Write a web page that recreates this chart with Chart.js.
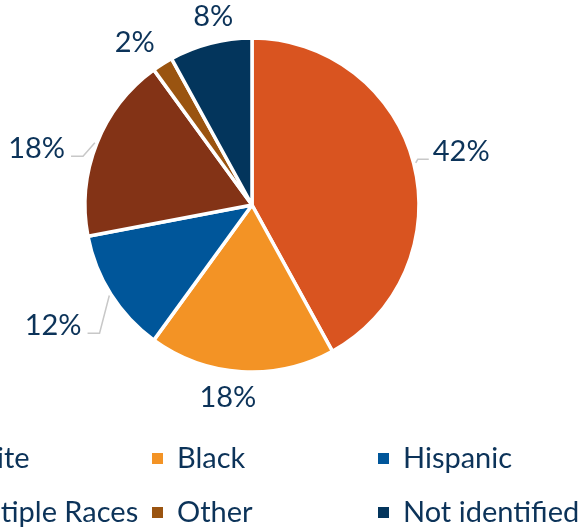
<!DOCTYPE html>
<html>
<head>
<meta charset="utf-8">
<script src="https://cdn.jsdelivr.net/npm/chart.js@4/dist/chart.umd.min.js"></script>
<style>
  html, body { margin: 0; padding: 0; background: #ffffff; overflow: hidden; width: 582px; height: 527px; }
  #wrap { position: absolute; left: -100px; top: 0; width: 704px; height: 527px; }
</style>
</head>
<body>
<div id="wrap"><canvas id="c"></canvas></div>
<script>
// ---- data ----
const categories = ["White", "Black", "Hispanic", "Multiple Races", "Other", "Not identified"];
const values = [42, 18, 12, 18, 2, 8];
const colors = ["#D95420", "#F39325", "#00569A", "#833316", "#9A5410", "#03355C"];

// ---- label placement options (not data) ----
const labelExtra = [49, 26, 65, 55, 33, 25];
const labelNudge = [[0, 0], [-12, 0], [-3, -4], [-9, 25], [-10, 7], [9, -2]];
const labelLeader = [true, false, true, true, false, false];

const FONT = "Lato, 'Open Sans', sans-serif";
const TEXT = "#0C3359";
const FSIZE = 29;

const outsideLabels = {
  id: 'outsideLabels',
  afterDatasetsDraw(chart) {
    const ctx = chart.ctx;
    const meta = chart.getDatasetMeta(0);
    ctx.save();
    ctx.font = FSIZE + "px " + FONT;
    ctx.textBaseline = 'middle';
    ctx.textAlign = 'center';
    meta.data.forEach((arc, i) => {
      const p = arc.getProps(['x', 'y', 'startAngle', 'endAngle', 'outerRadius'], true);
      const mid = (p.startAngle + p.endAngle) / 2;
      const ux = Math.cos(mid), uy = Math.sin(mid);
      const d = p.outerRadius + labelExtra[i];
      const lx = p.x + ux * d + labelNudge[i][0];
      const ly = p.y + uy * d + labelNudge[i][1];
      const txt = values[i] + '%';
      const w = ctx.measureText(txt).width;
      ctx.fillStyle = TEXT;
      ctx.fillText(txt, lx, ly);
      if (labelLeader[i]) {
        const sx = p.x + ux * (p.outerRadius + 2);
        const sy = p.y + uy * (p.outerRadius + 2);
        const lineY = ly + 8;
        let ex, bx;
        if (ux < 0) { const edge = lx + w / 2; ex = edge + 6; bx = edge + 18; }
        else { const edge = lx - w / 2; ex = edge - 4; bx = edge - 15; }
        ctx.strokeStyle = '#C8C8C8';
        ctx.lineWidth = 1.5;
        ctx.beginPath();
        ctx.moveTo(sx, sy);
        ctx.lineTo(bx, lineY);
        ctx.lineTo(ex, lineY);
        ctx.stroke();
      }
    });
    ctx.restore();
  }
};

const gridLegend = {
  id: 'gridLegend',
  afterDraw(chart) {
    const ctx = chart.ctx;
    const colX = [26, 252, 478];
    const rowY = [459, 513];
    ctx.save();
    ctx.font = FSIZE + "px " + FONT;
    ctx.textBaseline = 'middle';
    ctx.textAlign = 'left';
    categories.forEach((name, i) => {
      const x = colX[i % 3], y = rowY[Math.floor(i / 3)];
      ctx.fillStyle = colors[i];
      ctx.fillRect(x, y - 6, 11, 11);
      ctx.fillStyle = TEXT;
      ctx.fillText(name, x + 25, y);
    });
    ctx.restore();
  }
};

new Chart(document.getElementById('c'), {
  type: 'pie',
  data: {
    labels: categories,
    datasets: [{
      data: values,
      backgroundColor: colors,
      borderColor: '#ffffff',
      borderWidth: 3.5
    }]
  },
  options: {
    responsive: true,
    maintainAspectRatio: false,
    animation: false,
    radius: 167,
    layout: { padding: { top: 0, bottom: 117, left: 0, right: 0 } },
    plugins: {
      legend: { display: false },
      tooltip: { enabled: false }
    }
  },
  plugins: [outsideLabels, gridLegend]
});
</script>
</body>
</html>
